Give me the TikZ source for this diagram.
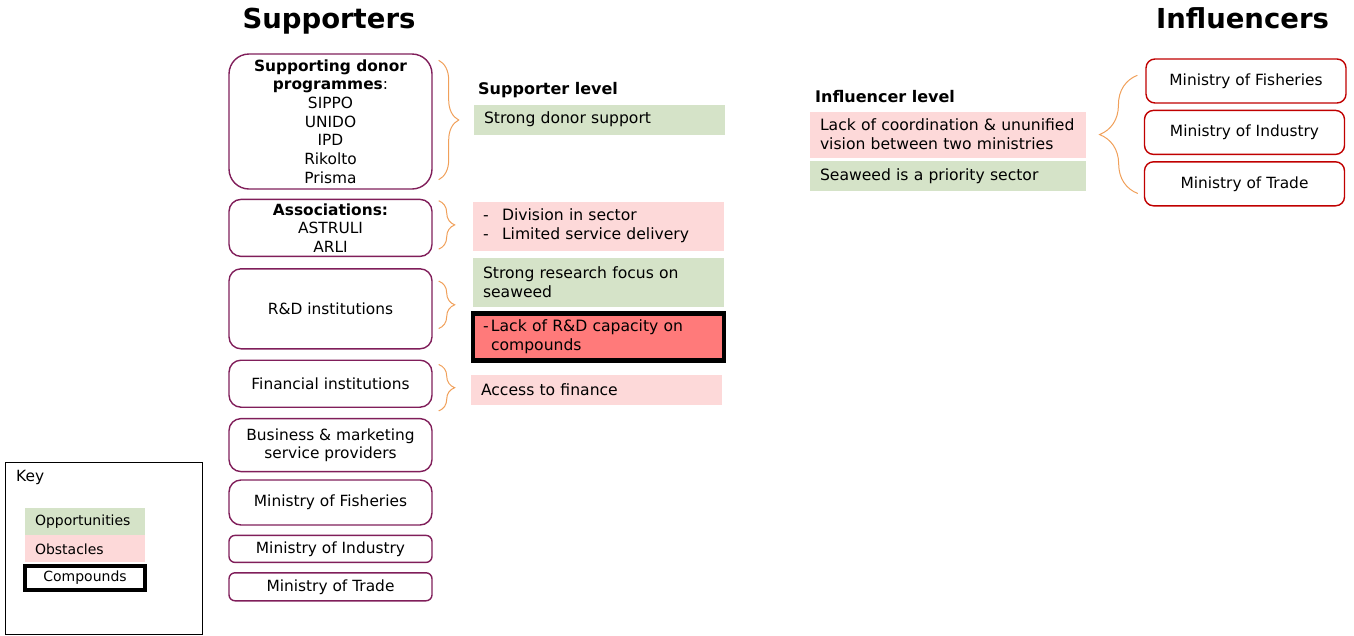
\documentclass[tikz,border=0pt]{standalone}
\usepackage{fontspec}
\setmainfont{DejaVu Sans}
\usetikzlibrary{positioning, calc, decorations.pathreplacing}

\definecolor{supcol}{RGB}{128,30,90}
\definecolor{infcol}{RGB}{192,0,0}
\definecolor{oppcol}{RGB}{213,227,200}
\definecolor{obscol}{RGB}{253,217,217}
\definecolor{compcol}{RGB}{255,122,122}
\definecolor{bracecol}{RGB}{240,160,90}

\begin{document}
\begin{tikzpicture}[x=1pt, y=-1pt, font=\fontsize{15.4}{18.7}\selectfont]
    % Block styles
    \tikzstyle{actor} = [rectangle, draw=supcol, line width=1.4pt, rounded corners=12pt, minimum width=203pt, inner sep=2pt, align=center]
    \tikzstyle{influencer} = [actor, draw=infcol, minimum width=200pt, rounded corners=9pt]
    \tikzstyle{note} = [rectangle, minimum width=251pt, text width=231pt, inner xsep=10pt, inner ysep=2pt, align=left, font=\fontsize{15.6}{18.7}\selectfont]
    \tikzstyle{opportunity} = [note, fill=oppcol]
    \tikzstyle{obstacle} = [note, fill=obscol]
    \tikzstyle{compound} = [note, draw=black, line width=4.5pt, fill=compcol]
    \tikzstyle{level} = [anchor=base west, inner sep=0pt, font=\fontsize{16}{19}\selectfont\bfseries]
    \tikzstyle{heading} = [anchor=base, inner sep=0pt, font=\fontsize{27.5}{32}\selectfont\bfseries]
    \tikzstyle{curly} = [draw=bracecol, line width=1pt, decorate, decoration={brace, amplitude=16pt}]
    \tikzstyle{legend} = [rectangle, minimum width=120pt, text width=100pt, inner xsep=10pt, inner ysep=0pt, align=left, font=\fontsize{14}{16}\selectfont]

    \useasboundingbox (0,0) rectangle (1354,635);

    % Headings
    \node [heading] (suphead) at (329,28) {Supporters};
    \node [heading] (infhead) at (1242.5,28) {Influencers};

    % Supporter column
    \node [actor, rounded corners=20pt, minimum height=135pt] (donor) at (330.5,121.5) {\textbf{Supporting donor}\\\textbf{programmes}:\\SIPPO\\UNIDO\\IPD\\Rikolto\\Prisma};
    \node [actor, minimum height=57pt, below=9pt of donor] (assoc) {\textbf{Associations:}\\ASTRULI\\ARLI};
    \node [actor, minimum height=80pt, below=11pt of assoc] (rnd) {R\&D institutions};
    \node [actor, minimum height=47pt, below=10pt of rnd] (finance) {Financial institutions};
    \node [actor, minimum height=53pt, below=10pt of finance] (business) {Business \& marketing\\service providers};
    \node [actor, minimum height=45pt, below=7pt of business] (fisheries) {Ministry of Fisheries};
    \node [actor, rounded corners=6pt, minimum height=27pt, below=9pt of fisheries] (industry) {Ministry of Industry};
    \node [actor, rounded corners=6pt, minimum height=28pt, below=9pt of industry] (trade) {Ministry of Trade};

    % Supporter level notes
    \node [level] (suplevel) at (478,94) {Supporter level};
    \node [opportunity, minimum height=30pt] (donorsupport) at (599.5,119.5) {Strong donor support};
    \node [obstacle, minimum height=49pt] (division) at (598.5,226) {\makebox[19pt][l]{-}Division in sector\\\makebox[19pt][l]{-}Limited service delivery};
    \node [opportunity, minimum height=49pt, below=7pt of division] (research) {Strong research focus on\\seaweed};
    \node [compound, minimum height=47pt, below=4pt of research] (capacity) {\makebox[8pt][l]{-}Lack of R\&D capacity on\\\hspace*{8pt}compounds};
    \node [obstacle, minimum height=30pt] (access) at (596.5,389.5) {Access to finance};

    % Influencer level notes
    \node [level] (inflevel) at (815,102) {Influencer level};
    \node [obstacle, minimum width=276pt, text width=256pt, minimum height=46pt] (coordination) at (948,134.5) {Lack of coordination \& ununified\\vision between two ministries};
    \node [opportunity, minimum width=276pt, text width=256pt, minimum height=30pt, below=3pt of coordination] (priority) {Seaweed is a priority sector};

    % Influencer column
    \node [influencer, minimum height=44pt] (infish) at (1246,81) {Ministry of Fisheries};
    \node [influencer, minimum height=44pt, below=6pt of infish, xshift=-1.5pt] (inindustry) {Ministry of Industry};
    \node [influencer, minimum height=44pt, below=6pt of inindustry] (intrade) {Ministry of Trade};

    % Braces
    \draw [curly, decoration={brace, amplitude=20pt}] ($(donor.north east)+(6,7)$) -- ($(donor.south east)+(6,-10)$);
    \draw [curly] ($(assoc.north east)+(6,2)$) -- ($(assoc.south east)+(6,-8)$);
    \draw [curly] ($(rnd.north east)+(6,13)$) -- ($(rnd.south east)+(6,-21)$);
    \draw [curly] ($(finance.north east)+(6,5)$) -- ($(finance.south east)+(6,3)$);
    \draw [curly, decoration={brace, amplitude=38pt}] ($(intrade.south west)+(-6,-13)$) -- ($(infish.north west)+(-8,17)$);

    % Key
    \node [draw, line width=0.8pt, minimum width=197pt, minimum height=172pt] (key) at (103.5,548) {};
    \node [anchor=west, inner sep=0pt] (keylabel) at (16,477) {Key};
    \node [legend, fill=oppcol, minimum height=27pt] (legopp) at (85,521.5) {Opportunities};
    \node [legend, fill=obscol, minimum height=27pt, below=0pt of legopp] (legobs) {Obstacles};
    \node [legend, draw=black, line width=4pt, fill=white, minimum height=24pt, align=center, below=1pt of legobs] (legcomp) {Compounds};
\end{tikzpicture}
\end{document}
